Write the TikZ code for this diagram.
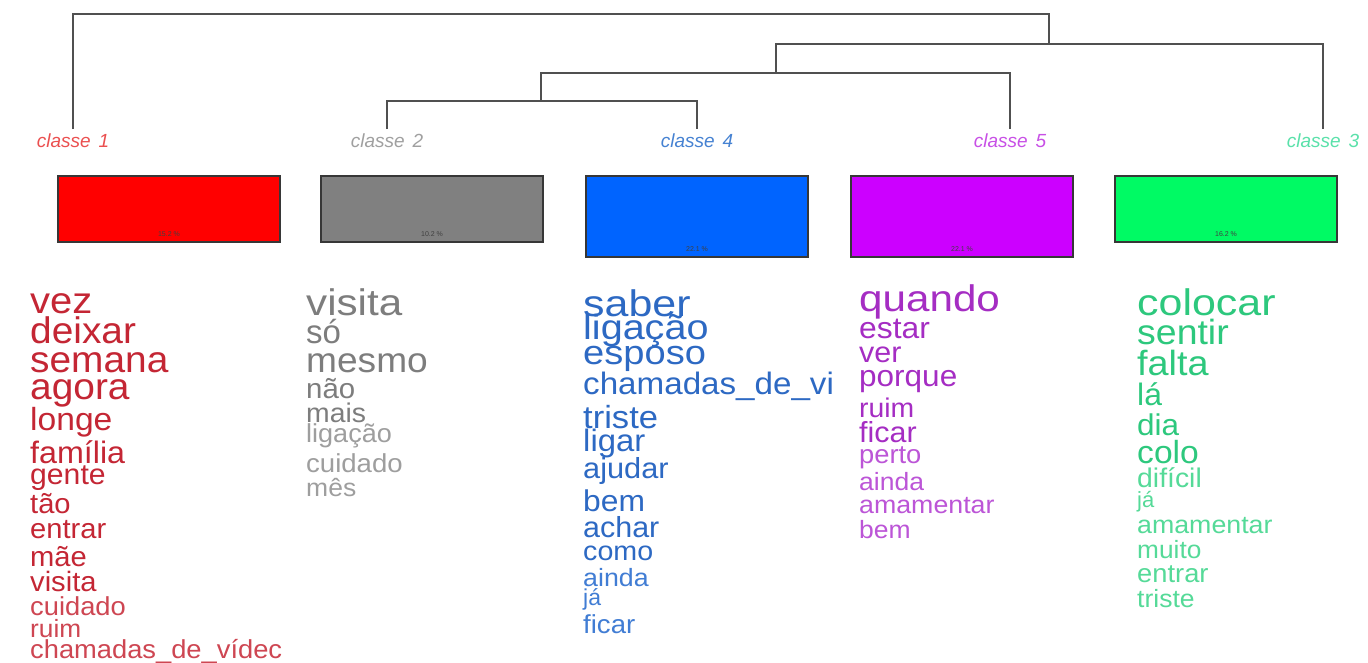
\documentclass[tikz,border=0pt]{standalone}
\usepackage{fontspec}
\setmainfont{Liberation Sans}
\newcommand{\fsz}[1]{\fontsize{#1}{#1}\selectfont}
\newcommand{\sx}[2]{\scalebox{#1}[1]{#2}}
\definecolor{lnk}{RGB}{80,80,80}
\definecolor{bord}{RGB}{55,55,55}
\definecolor{f1}{RGB}{255,0,0}
\definecolor{f2}{RGB}{128,128,128}
\definecolor{f4}{RGB}{0,100,255}
\definecolor{f5}{RGB}{204,0,255}
\definecolor{f3}{RGB}{0,250,100}
\definecolor{lb1}{RGB}{235,80,80}
\definecolor{lb2}{RGB}{160,160,160}
\definecolor{lb4}{RGB}{70,130,210}
\definecolor{lb5}{RGB}{200,80,230}
\definecolor{lb3}{RGB}{90,225,170}
\definecolor{c1}{RGB}{196,38,52}
\definecolor{c1l}{RGB}{206,70,82}
\definecolor{c2}{RGB}{125,125,125}
\definecolor{c2l}{RGB}{158,158,158}
\definecolor{c4}{RGB}{45,105,195}
\definecolor{c4l}{RGB}{65,125,212}
\definecolor{c5}{RGB}{165,45,195}
\definecolor{c5l}{RGB}{188,85,215}
\definecolor{c3}{RGB}{45,200,125}
\definecolor{c3l}{RGB}{85,218,152}
\begin{document}
\begin{tikzpicture}[x=1pt,y=-1pt,
  link/.style={draw=lnk,line width=2pt},
  clab/.style={font=\fsz{19}\itshape,inner sep=0pt,anchor=center},
  cbox/.style={draw=bord,line width=1.5pt,minimum width=222pt,anchor=north,inner sep=0pt},
  pct/.style={font=\fsz{7},text=black!75,inner sep=0pt,anchor=south},
  word/.style={inner sep=0pt,anchor=base west}]
\useasboundingbox (0,0) rectangle (1368,662);
\fill[white] (0,0) rectangle (1368,662);
% dendrogram
\coordinate (t1) at (73,129);
\coordinate (t2) at (387,129);
\coordinate (t4) at (697,129);
\coordinate (t5) at (1010,129);
\coordinate (t3) at (1323,129);
\coordinate (j24) at (541,101);
\coordinate (j245) at (776,73);
\coordinate (j2453) at (1049,44);
\coordinate (root) at (500,14);
\draw[link] (t2) |- (j24) -| (t4);
\draw[link] (j24) |- (j245) -| (t5);
\draw[link] (j245) |- (j2453) -| (t3);
\draw[link] (t1) |- (root) -| (j2453);
% class labels
\node[clab,text=lb1] (l1) at (73,141) {classe\hspace{8pt}1};
\node[clab,text=lb2] (l2) at (387,141) {classe\hspace{8pt}2};
\node[clab,text=lb4] (l4) at (697,141) {classe\hspace{8pt}4};
\node[clab,text=lb5] (l5) at (1010,141) {classe\hspace{8pt}5};
\node[clab,text=lb3] (l3) at (1323,141) {classe\hspace{8pt}3};
% boxes
\node[cbox,fill=f1,minimum height=66pt] (b1) at (169,175) {};
\node[cbox,fill=f2,minimum height=66pt] (b2) at (432,175) {};
\node[cbox,fill=f4,minimum height=81pt] (b4) at (697,175) {};
\node[cbox,fill=f5,minimum height=81pt] (b5) at (962,175) {};
\node[cbox,fill=f3,minimum height=66pt] (b3) at (1226,175) {};
\node[pct] (p1) at (169,237) {15.2 \%};
\node[pct] (p2) at (432,237) {10.2 \%};
\node[pct] (p4) at (697,252) {22.1 \%};
\node[pct] (p5) at (962,252) {22.1 \%};
\node[pct] (p3) at (1226,237) {16.2 \%};
% classe 1 words
\node[word,font=\fsz{37},text=c1] (a1) at (30,313) {\sx{1.08}{vez}};
\node[word,font=\fsz{37},text=c1] (a2) at (30,343) {\sx{1.05}{deixar}};
\node[word,font=\fsz{37},text=c1] (a3) at (30,372) {\sx{1.05}{semana}};
\node[word,font=\fsz{37},text=c1] (a4) at (30,399) {\sx{1.05}{agora}};
\node[word,font=\fsz{32},text=c1] (a5) at (30,430) {\sx{1.05}{longe}};
\node[word,font=\fsz{31},text=c1] (a6) at (30,463) {\sx{1.04}{família}};
\node[word,font=\fsz{29},text=c1] (a7) at (30,484) {\sx{1.04}{gente}};
\node[word,font=\fsz{28},text=c1] (a8) at (30,513) {\sx{1.04}{tão}};
\node[word,font=\fsz{28},text=c1] (a9) at (30,538) {\sx{1.04}{entrar}};
\node[word,font=\fsz{28},text=c1] (a10) at (30,566) {\sx{1.04}{mãe}};
\node[word,font=\fsz{28},text=c1] (a11) at (30,591) {\sx{1.04}{visita}};
\node[word,font=\fsz{26},text=c1l] (a12) at (30,615) {\sx{1.05}{cuidado}};
\node[word,font=\fsz{25},text=c1l] (a13) at (30,637) {\sx{1.05}{ruim}};
\node[word,font=\fsz{26},text=c1l] (a14) at (30,658) {\sx{1.05}{chamadas\_de\_vídec}};
% classe 2 words
\node[word,font=\fsz{37},text=c2] (g1) at (306,315) {\sx{1.14}{visita}};
\node[word,font=\fsz{33},text=c2] (g2) at (306,343) {\sx{1.0}{só}};
\node[word,font=\fsz{35},text=c2] (g3) at (306,372) {\sx{1.06}{mesmo}};
\node[word,font=\fsz{28},text=c2] (g4) at (306,398) {\sx{1.05}{não}};
\node[word,font=\fsz{27},text=c2] (g5) at (306,422) {\sx{1.05}{mais}};
\node[word,font=\fsz{26},text=c2l] (g6) at (306,442) {\sx{1.04}{ligação}};
\node[word,font=\fsz{26},text=c2l] (g7) at (306,472) {\sx{1.06}{cuidado}};
\node[word,font=\fsz{25},text=c2l] (g8) at (306,496) {\sx{1.06}{mês}};
% classe 4 words
\node[word,font=\fsz{37},text=c4] (d1) at (583,316) {\sx{1.16}{saber}};
\node[word,font=\fsz{35},text=c4] (d2) at (583,339) {\sx{1.13}{ligação}};
\node[word,font=\fsz{34},text=c4] (d3) at (583,364) {\sx{1.12}{esposo}};
\node[word,font=\fsz{31},text=c4] (d4) at (583,394) {\sx{1.07}{chamadas\_de\_vi}};
\node[word,font=\fsz{32},text=c4] (d5) at (583,428) {\sx{1.08}{triste}};
\node[word,font=\fsz{31},text=c4] (d6) at (583,451) {\sx{1.06}{ligar}};
\node[word,font=\fsz{29},text=c4] (d7) at (583,478) {\sx{1.06}{ajudar}};
\node[word,font=\fsz{30},text=c4] (d8) at (583,511) {\sx{1.06}{bem}};
\node[word,font=\fsz{29},text=c4] (d9) at (583,537) {\sx{1.05}{achar}};
\node[word,font=\fsz{27},text=c4] (d10) at (583,560) {\sx{1.06}{como}};
\node[word,font=\fsz{25},text=c4l] (d11) at (583,586) {\sx{1.07}{ainda}};
\node[word,font=\fsz{23},text=c4l] (d12) at (583,605) {\sx{1.0}{já}};
\node[word,font=\fsz{26},text=c4l] (d13) at (583,633) {\sx{1.06}{ficar}};
% classe 5 words
\node[word,font=\fsz{37},text=c5] (e1) at (859,311) {\sx{1.14}{quando}};
\node[word,font=\fsz{30},text=c5] (e2) at (859,338) {\sx{1.06}{estar}};
\node[word,font=\fsz{29},text=c5] (e3) at (859,362) {\sx{1.05}{ver}};
\node[word,font=\fsz{30},text=c5] (e4) at (859,386) {\sx{1.05}{porque}};
\node[word,font=\fsz{27},text=c5] (e5) at (859,417) {\sx{1.05}{ruim}};
\node[word,font=\fsz{29},text=c5] (e6) at (859,442) {\sx{1.05}{ficar}};
\node[word,font=\fsz{26},text=c5l] (e7) at (859,463) {\sx{1.05}{perto}};
\node[word,font=\fsz{25},text=c5l] (e8) at (859,490) {\sx{1.06}{ainda}};
\node[word,font=\fsz{25},text=c5l] (e9) at (859,513) {\sx{1.07}{amamentar}};
\node[word,font=\fsz{25},text=c5l] (e10) at (859,538) {\sx{1.06}{bem}};
% classe 3 words
\node[word,font=\fsz{37},text=c3] (h1) at (1137,315) {\sx{1.16}{colocar}};
\node[word,font=\fsz{35},text=c3] (h2) at (1137,344) {\sx{1.07}{sentir}};
\node[word,font=\fsz{35},text=c3] (h3) at (1137,375) {\sx{1.08}{falta}};
\node[word,font=\fsz{31},text=c3] (h4) at (1137,405) {\sx{1.03}{lá}};
\node[word,font=\fsz{30},text=c3] (h5) at (1137,435) {\sx{1.05}{dia}};
\node[word,font=\fsz{32},text=c3] (h6) at (1137,463) {\sx{1.05}{colo}};
\node[word,font=\fsz{27},text=c3l] (h7) at (1137,487) {\sx{1.05}{difícil}};
\node[word,font=\fsz{22},text=c3l] (h8) at (1137,507) {\sx{1.0}{já}};
\node[word,font=\fsz{25},text=c3l] (h9) at (1137,533) {\sx{1.07}{amamentar}};
\node[word,font=\fsz{25},text=c3l] (h10) at (1137,558) {\sx{1.05}{muito}};
\node[word,font=\fsz{26},text=c3l] (h11) at (1137,582) {\sx{1.05}{entrar}};
\node[word,font=\fsz{25},text=c3l] (h12) at (1137,607) {\sx{1.06}{triste}};
\end{tikzpicture}
\end{document}
